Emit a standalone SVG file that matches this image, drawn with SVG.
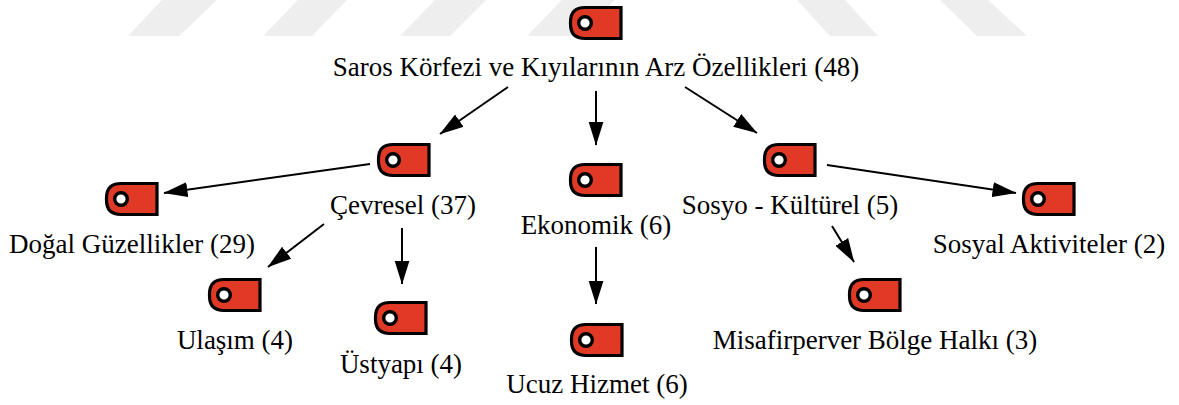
<svg xmlns="http://www.w3.org/2000/svg" width="1179" height="405" viewBox="0 0 1179 405">
<defs>
<marker id="a" markerUnits="userSpaceOnUse" markerWidth="24" markerHeight="16" refX="23.500" refY="8" orient="auto"><path d="M0 0.500 L24 8 L0 15.500 Z" fill="#000"/></marker>
<g id="tag"><path d="M-11 -15.500 H25 V15.500 H-11 Q-25.500 15.500 -25.500 1 V-1 Q-25.500 -15.500 -11 -15.500 Z" fill="#e03a26" stroke="#000" stroke-width="3.200"/><circle cx="-11" cy="0" r="6.300" fill="#fff" stroke="#000" stroke-width="3.400"/></g>
</defs>
<style>text{font-family:"Liberation Serif",serif;font-size:27px;fill:#000;text-anchor:middle}.c{stroke:#000;stroke-width:2;fill:none;marker-end:url(#a)}.w{fill:#eeeeee}</style>
<rect width="1179" height="405" fill="#fff"/>
<g id="watermark">
<path class="w" d="M162 0H217L179 36H128Z"/><path class="w" d="M298 0H347L312 36H263Z"/><path class="w" d="M435 0H486L450 36H400Z"/><path class="w" d="M562 0H615L578 36H527Z"/>
<path class="w" d="M797 0H845L878 36H830Z"/><path class="w" d="M940 0H988L1027 36H977Z"/>
</g>
<g id="connectors">
<path class="c" d="M508 87L440 134"/><path class="c" d="M596 91V145"/><path class="c" d="M685 87L757 133"/>
<path class="c" d="M370 164L164 193"/><path class="c" d="M324 224L268 267"/><path class="c" d="M402 228V284"/>
<path class="c" d="M596 247V304"/><path class="c" d="M827 165L1016 193"/><path class="c" d="M832 226L854 262"/>
</g>
<g id="n1"><use href="#tag" x="596" y="23"/><text x="596" y="76">Saros Körfezi ve Kıyılarının Arz Özellikleri (48)</text></g>
<g id="n2"><use href="#tag" x="404" y="160"/><text x="403" y="214">Çevresel (37)</text></g>
<g id="n3"><use href="#tag" x="596" y="180"/><text x="596" y="234">Ekonomik (6)</text></g>
<g id="n4"><use href="#tag" x="790" y="160"/><text x="790" y="214">Sosyo - Kültürel (5)</text></g>
<g id="n5"><use href="#tag" x="132" y="199"/><text x="132" y="253">Doğal Güzellikler (29)</text></g>
<g id="n6"><use href="#tag" x="235" y="295"/><text x="235" y="349">Ulaşım (4)</text></g>
<g id="n7"><use href="#tag" x="401" y="318"/><text x="401" y="373">Üstyapı (4)</text></g>
<g id="n8"><use href="#tag" x="597" y="340"/><text x="597" y="393">Ucuz Hizmet (6)</text></g>
<g id="n9"><use href="#tag" x="875" y="295"/><text x="875" y="349">Misafirperver Bölge Halkı (3)</text></g>
<g id="n10"><use href="#tag" x="1049" y="199"/><text x="1049" y="253">Sosyal Aktiviteler (2)</text></g>
</svg>
